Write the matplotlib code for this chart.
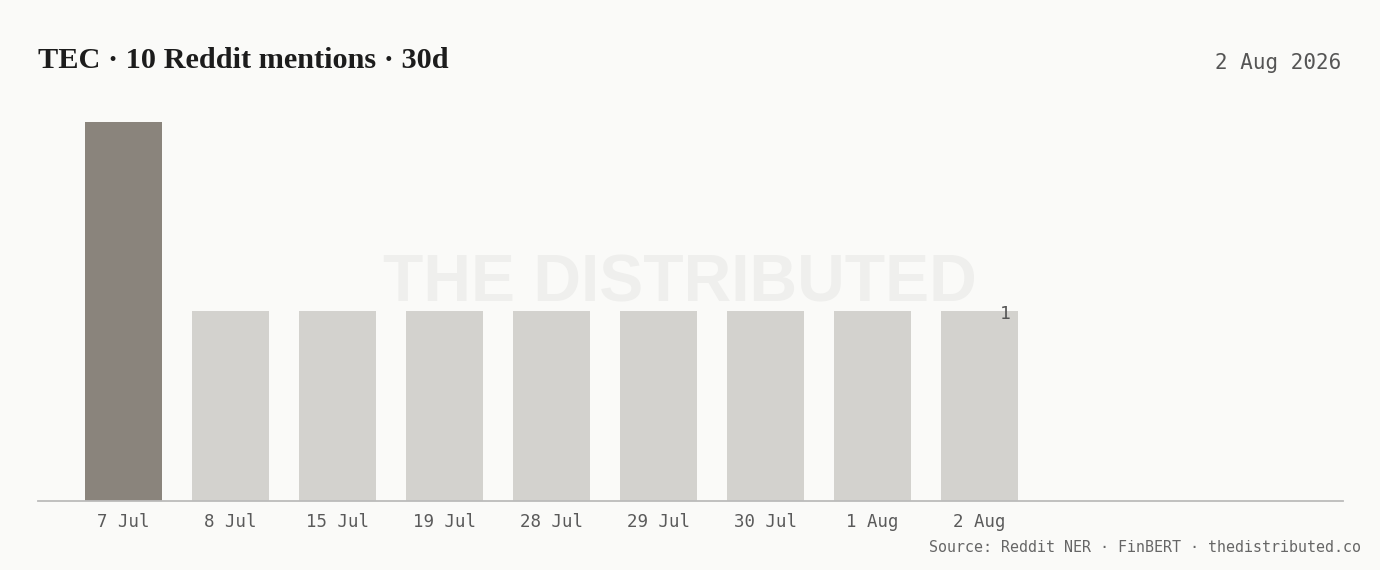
import matplotlib.pyplot as plt

# data
dates = ['7 Jul', '8 Jul', '15 Jul', '19 Jul', '28 Jul', '29 Jul', '30 Jul', '1 Aug', '2 Aug']
mentions = [2, 1, 1, 1, 1, 1, 1, 1, 1]
title = 'TEC · 10 Reddit mentions · 30d'
date_stamp = '2 Aug 2026'
source = 'Source: Reddit NER · FinBERT · thedistributed.co'

bg = '#fafaf8'
dark = '#8a847c'
light = '#d3d2ce'
mono = 'DejaVu Sans Mono'

fig = plt.figure(figsize=(13.8, 5.7), dpi=100, facecolor=bg)
ax = fig.add_axes([0.0275, 0.1211, 0.9455, 0.665], facecolor=bg)

x = list(range(len(dates)))
colors = [dark if i == 0 else light for i in x]
ax.bar(x, mentions, width=0.72, color=colors, zorder=2)

# last value label
ax.annotate(str(mentions[-1]), (x[-1] + 0.36, mentions[-1]), textcoords='offset points',
            xytext=(-5, -1.5), ha='right', va='center', fontsize=13, family=mono, color='#555555')

ax.set_xlim(-0.8, 11.4)
ax.set_ylim(0, max(mentions))
ax.set_xticks(x)
ax.set_xticklabels(dates, family=mono, fontsize=12.5, color='#5a5a5a')
ax.tick_params(axis='x', length=0, pad=9)
ax.set_yticks([])
for s in ['top', 'right', 'left']:
    ax.spines[s].set_visible(False)
ax.spines['bottom'].set_color('#bbbbbb')
ax.spines['bottom'].set_linewidth(1.3)
ax.spines['bottom'].set_zorder(3)

# watermark
fig.text(0.4928, 0.5, 'THE DISTRIBUTED', ha='center', va='center', fontsize=47.5,
         family='Liberation Sans', weight='bold', color='#efefed', zorder=0)

fig.text(0.0275, 0.893, title, ha='left', va='center', fontsize=21.8,
         family='Liberation Serif', weight='bold', color='#1c1c1c')
fig.text(0.972, 0.89, date_stamp, ha='right', va='center', fontsize=15,
         family=mono, color='#555555')
fig.text(0.986, 0.04, source, ha='right', va='center', fontsize=10.8,
         family=mono, color='#666666')

fig.savefig('out.png', dpi=100, facecolor=bg)
